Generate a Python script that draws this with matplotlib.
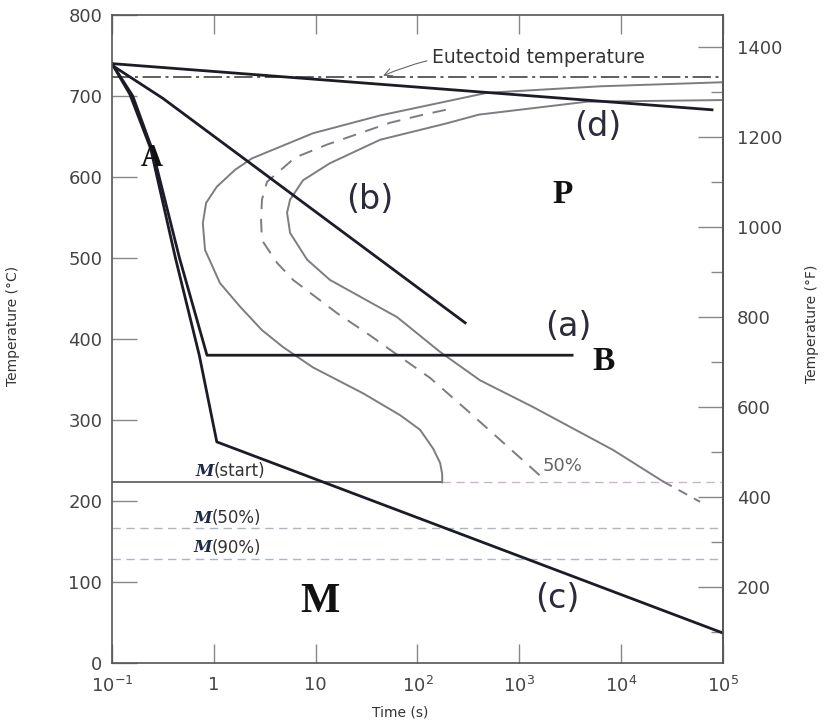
import matplotlib
matplotlib.use('Agg')
import matplotlib.pyplot as plt
from matplotlib.ticker import NullLocator, FixedLocator

# cooling paths (time in s, temperature in degC)
a_time = [0.1, 0.16, 0.25, 0.46, 0.857, 3300]
a_temp = [740, 700, 633, 500, 380, 380]
b_time = [0.1, 0.317, 294]
b_temp = [738, 697, 420]
c_time = [0.1, 0.15, 0.24, 0.42, 0.72, 1.07, 1e5]
c_temp = [740, 702, 635, 500, 380, 273, 37]
d_time = [0.1, 7.8e4]
d_temp = [740, 683]

# transformation curves
start_time = [1e5, 6220, 483, 43, 9.4, 2.37, 1.62, 1.07, 0.84, 0.78, 0.82, 1.15, 1.81,
              2.97, 4.79, 9.4, 29.2, 67.5, 106, 142, 167, 175, 175]
start_temp = [717, 712, 704, 676, 654, 623, 609, 588, 568, 543, 510, 469, 440,
              411, 390, 365, 333, 306, 288, 265, 247, 233, 223]
fifty_time = [190, 106, 53.8, 12.9, 6.28, 3.33, 2.97, 2.91, 2.97, 4.18, 6.0,
              16.2, 32.0, 67.5, 133, 307, 726, 1710]
fifty_temp = [683, 676, 667, 640, 624, 594, 572, 547, 522, 494, 473,
              432, 407, 378, 352, 312, 270, 228]
finish_time = [1e5, 4630, 400, 190, 43, 13.8, 7.52, 5.61, 5.24, 5.61, 8.24, 13.8, 63.1, 167,
               412, 1367, 8340, 25900]
finish_temp = [695, 693, 677, 666, 646, 617, 596, 572, 556, 531, 498, 473, 427, 384,
               349, 316, 263, 224]
finish_tail_time = [25900, 59700]
finish_tail_temp = [224, 199]

eutectoid = 723
ms_temp = 223
ms_end = 175
m50_temp = 167
m90_temp = 128

time_ticks = [0.1, 1, 10, 100, 1e3, 1e4, 1e5]
time_labels = ['$10^{-1}$', '1', '10', '$10^{2}$', '$10^{3}$', '$10^{4}$', '$10^{5}$']
c_ticks = [0, 100, 200, 300, 400, 500, 600, 700, 800]
f_ticks = [200, 400, 600, 800, 1000, 1200, 1400]
f_minor = [100, 300, 500, 700, 900, 1100, 1300]

fig = plt.figure(figsize=(8.27, 7.22), dpi=100)
ax = fig.add_axes([0.1354, 0.0817, 0.7388, 0.8975])
ax.set_xscale('log')
ax.set_xlim(0.1, 1e5)
ax.set_ylim(0, 800)

gray = '#7c7c82'
dark = '#1c1c28'

# eutectoid line
ax.plot([0.1, 1e5], [eutectoid, eutectoid], color='#333333', lw=1.1, dashes=(12, 3, 2, 3))

# martensite lines
ax.plot([0.1, ms_end], [ms_temp, ms_temp], color='#555560', lw=1.2)
ax.plot([ms_end, 1e5], [ms_temp, ms_temp], color='#c8b4cc', lw=1.0, dashes=(6, 4))
ax.plot([0.1, 1e5], [m50_temp, m50_temp], color='#aab6c6', lw=1.0, dashes=(6, 4))
ax.plot([0.1, 1e5], [m90_temp, m90_temp], color='#aab6c6', lw=1.0, dashes=(6, 4))

# C-curves
ax.plot(start_time, start_temp, color=gray, lw=1.4)
ax.plot(fifty_time, fifty_temp, color=gray, lw=1.4, dashes=(7, 5))
ax.plot(finish_time, finish_temp, color=gray, lw=1.4)
ax.plot(finish_tail_time, finish_tail_temp, color=gray, lw=1.4, dashes=(5, 4))

# cooling curves
ax.plot(a_time, a_temp, color=dark, lw=2.0)
ax.plot(c_time, c_temp, color=dark, lw=2.0)
ax.plot(b_time, b_temp, color=dark, lw=2.0)
ax.plot(d_time, d_temp, color=dark, lw=2.0)

# labels
ax.annotate('Eutectoid temperature', xy=(46, 725), xytext=(140, 748),
            fontsize=13.5, color='#333333', ha='left', va='center',
            arrowprops=dict(arrowstyle='->', color='#666666', lw=0.8,
                            connectionstyle='arc3,rad=0.15', shrinkA=2, shrinkB=0))

serif = dict(fontfamily='Liberation Serif', weight='bold', color='#111111',
             ha='center', va='center')
ax.text(0.247, 623, 'A', fontsize=22, **serif)
ax.text(2690, 578, 'P', fontsize=24, **serif)
ax.text(6650, 372, 'B', fontsize=24, **serif)
ax.text(11, 75, 'M', fontsize=30, **serif)

paren = dict(fontsize=24, color='#2b2b3b', ha='center', va='center')
ax.text(34, 572, '(b)', **paren)
ax.text(5940, 662, '(d)', **paren)
ax.text(3015, 415, '(a)', **paren)
ax.text(2350, 80, '(c)', **paren)

ax.text(2630, 243, '50%', fontsize=13, color='#666666', ha='center', va='center')

for t, y, s in [(1.0, 237, '(start)'), (0.96, 179, '(50%)'), (0.96, 142, '(90%)')]:
    ax.text(t, y, 'M', fontfamily='DejaVu Serif', style='italic', weight='bold',
            fontsize=12, color='#1e2a45', ha='right', va='center')
    ax.text(t, y, s, fontsize=12, color='#333333', ha='left', va='center')

# axes styling
for sp in ax.spines.values():
    sp.set_color('#555555')
    sp.set_linewidth(1.2)

ax.set_xticks(time_ticks, time_labels)
ax.xaxis.set_minor_locator(NullLocator())
ax.tick_params(axis='x', which='major', direction='in', length=14, width=1,
               color='#888888', top=True, labelsize=13, pad=9, labelcolor='#444444')
ax.set_yticks(c_ticks)
ax.tick_params(axis='y', which='major', direction='in', length=18, width=1,
               color='#888888', labelsize=13, pad=7, labelcolor='#444444')

sec = ax.secondary_yaxis('right', functions=(lambda c: c * 9 / 5 + 32,
                                             lambda f: (f - 32) * 5 / 9))
sec.set_yticks(f_ticks)
sec.yaxis.set_minor_locator(FixedLocator(f_minor))
sec.tick_params(which='major', direction='in', length=18, width=1, color='#888888',
                labelsize=13, pad=10, labelcolor='#444444')
sec.tick_params(which='minor', direction='in', length=9, width=1, color='#888888')
sec.spines['right'].set_color('#555555')
sec.spines['right'].set_linewidth(1.2)

ax.set_xlabel('Time (s)', fontsize=10, color='#333333')
ax.xaxis.set_label_coords(0.471, -0.065)
ax.set_ylabel('Temperature (°C)', fontsize=10, color='#333333')
ax.yaxis.set_label_coords(-0.15, 0.52)
ax.text(1.146, 0.523, 'Temperature (°F)', transform=ax.transAxes, fontsize=10,
        color='#333333', rotation=90, ha='center', va='center')

fig.savefig('out.png', dpi=100)
